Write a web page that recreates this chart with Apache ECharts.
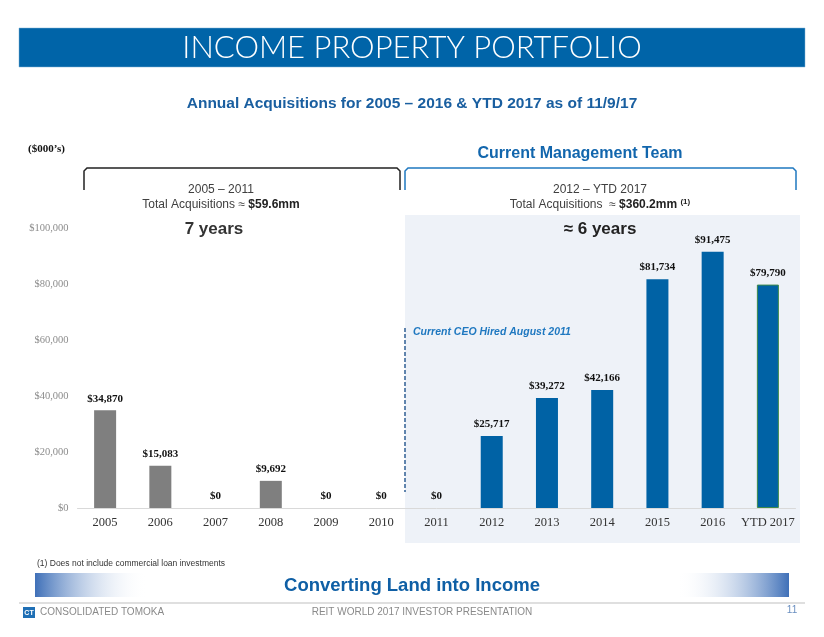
<!DOCTYPE html>
<html>
<head>
<meta charset="utf-8">
<script src="https://cdn.jsdelivr.net/npm/echarts@6/dist/echarts.min.js"></script>
<style>
html,body{margin:0;padding:0;background:#fff;}
#chart{width:824px;height:637px;}
</style>
</head>
<body>
<div id="chart"></div>
<script>
const categories = ['2005','2006','2007','2008','2009','2010','2011','2012','2013','2014','2015','2016','YTD 2017'];
const acquisitions = [34870, 15083, 0, 9692, 0, 0, 0, 25717, 39272, 42166, 81734, 91475, 79790];
const yTicks = [0, 20000, 40000, 60000, 80000, 100000];
const firstNewTeamIndex = 6;

const GRAY = '#7f7f7f';
const BLUE = '#0062a5';

const chart = echarts.init(document.getElementById('chart'), null, {renderer: 'canvas'});

const barData = acquisitions.map((v, i) => {
  const item = {value: v, itemStyle: {color: i < firstNewTeamIndex ? GRAY : BLUE}};
  if (i === acquisitions.length - 1) {
    item.itemStyle.borderColor = '#3f8a4a';
    item.itemStyle.borderWidth = 1;
  }
  return item;
});

const fmt = v => '$' + Number(v).toLocaleString('en-US');

const option = {
  backgroundColor: '#ffffff',
  animation: false,
  grid: {left: 77.5, right: 28.5, top: 228, bottom: 129, containLabel: false},
  xAxis: {
    type: 'category',
    data: categories,
    axisLine: {show: true, lineStyle: {color: '#d9d9d9', width: 1}},
    axisTick: {show: false},
    axisLabel: {interval: 0, color: '#333333', fontFamily: 'Liberation Serif, Times New Roman, serif', fontSize: 12.5, margin: 8}
  },
  yAxis: {
    type: 'value',
    min: yTicks[0],
    max: yTicks[yTicks.length - 1],
    interval: yTicks[1] - yTicks[0],
    splitLine: {show: false},
    axisLine: {show: false},
    axisTick: {show: false},
    axisLabel: {color: '#8c8c8c', fontFamily: 'Liberation Serif, Times New Roman, serif', fontSize: 10.5, margin: 9, formatter: fmt}
  },
  series: [{
    type: 'bar',
    data: barData,
    barWidth: 22,
    z: 5,
    label: {
      show: true,
      position: 'top',
      distance: 6,
      color: '#111111',
      fontFamily: 'Liberation Serif, Times New Roman, serif',
      fontWeight: 'bold',
      fontSize: 11,
      formatter: p => fmt(p.value)
    }
  }],
  graphic: [
    {type: 'rect', z: 0, shape: {x: 19, y: 28, width: 786, height: 39}, style: {fill: '#0064a8', stroke: '#7fb0d6', lineWidth: 0.5}},
    {type: 'text', z: 1, style: {x: 412, y: 48, text: 'INCOME PROPERTY PORTFOLIO', fill: '#ffffff', font: '300 31px Lato, "Open Sans", sans-serif', textAlign: 'center', textVerticalAlign: 'middle'}},
    {type: 'text', z: 1, style: {x: 412, y: 104, text: 'Annual Acquisitions for 2005 \u2013 2016 & YTD 2017 as of 11/9/17', fill: '#1a5fa0', font: 'bold 15.5px "Liberation Sans", Arial, sans-serif', textAlign: 'center', textVerticalAlign: 'middle'}},
    {type: 'text', z: 1, style: {x: 28, y: 149, text: '($000\u2019s)', fill: '#111111', font: 'bold 11px "Liberation Serif", serif', textAlign: 'left', textVerticalAlign: 'middle'}},
    {type: 'text', z: 1, style: {x: 580, y: 154, text: 'Current Management Team', fill: '#1266ad', font: 'bold 16px "Liberation Sans", Arial, sans-serif', textAlign: 'center', textVerticalAlign: 'middle'}},
    {type: 'rect', z: -1, shape: {x: 405, y: 215, width: 395, height: 328}, style: {fill: '#eef2f8'}},
    {type: 'polyline', z: 1, shape: {points: [[84, 190], [84, 171], [87, 168], [397, 168], [400, 171], [400, 190]]}, style: {stroke: '#222222', lineWidth: 1.5, fill: 'none'}},
    {type: 'polyline', z: 1, shape: {points: [[405, 190], [405, 171], [408, 168], [793, 168], [796, 171], [796, 190]]}, style: {stroke: '#1f78c0', lineWidth: 1.5, fill: 'none'}},
    {type: 'text', z: 1, style: {x: 221, y: 190, text: '2005 \u2013 2011', fill: '#404040', font: '12px "Liberation Sans", Arial, sans-serif', textAlign: 'center', textVerticalAlign: 'middle'}},
    {type: 'text', z: 1, style: {x: 221, y: 205, rich: {n: {fill: '#404040', font: '12px "Liberation Sans", Arial, sans-serif'}, b: {fill: '#222222', font: 'bold 12px "Liberation Sans", Arial, sans-serif'}}, text: '{n|Total Acquisitions \u2248 }{b|$59.6mm}', textAlign: 'center', textVerticalAlign: 'middle'}},
    {type: 'text', z: 1, style: {x: 214, y: 229, text: '7 years', fill: '#333333', font: 'bold 17px "Liberation Sans", Arial, sans-serif', textAlign: 'center', textVerticalAlign: 'middle'}},
    {type: 'text', z: 1, style: {x: 600, y: 190, text: '2012 \u2013 YTD 2017', fill: '#404040', font: '12px "Liberation Sans", Arial, sans-serif', textAlign: 'center', textVerticalAlign: 'middle'}},
    {type: 'text', z: 1, style: {x: 600, y: 205, rich: {n: {fill: '#404040', font: '12px "Liberation Sans", Arial, sans-serif'}, b: {fill: '#222222', font: 'bold 12px "Liberation Sans", Arial, sans-serif'}, s: {fill: '#222222', font: 'bold 8px "Liberation Sans", Arial, sans-serif', verticalAlign: 'top', padding: [0, 0, 6, 0]}}, text: '{n|Total Acquisitions  \u2248 }{b|$360.2mm }{s|(1)}', textAlign: 'center', textVerticalAlign: 'middle'}},
    {type: 'text', z: 1, style: {x: 600, y: 229, text: '\u2248 6 years', fill: '#222222', font: 'bold 17px "Liberation Sans", Arial, sans-serif', textAlign: 'center', textVerticalAlign: 'middle'}},
    {type: 'line', z: 3, shape: {x1: 405, y1: 328, x2: 405, y2: 492}, style: {stroke: '#2f5f94', lineWidth: 1.5, lineDash: [4, 2]}},
    {type: 'text', z: 3, style: {x: 413, y: 332, text: 'Current CEO Hired August 2011', fill: '#1f78c0', font: 'italic bold 10.5px "Liberation Sans", Arial, sans-serif', textAlign: 'left', textVerticalAlign: 'middle'}},
    {type: 'text', z: 1, style: {x: 37, y: 564, text: '(1) Does not include commercial loan investments', fill: '#333333', font: '8.5px "Liberation Sans", Arial, sans-serif', textAlign: 'left', textVerticalAlign: 'middle'}},
    {type: 'rect', z: 1, shape: {x: 35, y: 573, width: 112, height: 24}, style: {fill: new echarts.graphic.LinearGradient(0, 0, 1, 0, [{offset: 0, color: '#3f70b8'}, {offset: 1, color: 'rgba(255,255,255,0)'}])}},
    {type: 'rect', z: 1, shape: {x: 677, y: 573, width: 112, height: 24}, style: {fill: new echarts.graphic.LinearGradient(0, 0, 1, 0, [{offset: 0, color: 'rgba(255,255,255,0)'}, {offset: 1, color: '#3f70b8'}])}},
    {type: 'text', z: 2, style: {x: 412, y: 586, text: 'Converting Land into Income', fill: '#0f5fa5', font: 'bold 18.5px "Liberation Sans", Arial, sans-serif', textAlign: 'center', textVerticalAlign: 'middle'}},
    {type: 'line', z: 1, shape: {x1: 19, y1: 603, x2: 805, y2: 603}, style: {stroke: '#bfbfbf', lineWidth: 1}},
    {type: 'rect', z: 1, shape: {x: 23, y: 607, width: 12, height: 11}, style: {fill: '#1f6fb5'}},
    {type: 'text', z: 2, style: {x: 29, y: 613, text: 'CT', fill: '#ffffff', font: 'bold 7px "Liberation Sans", Arial, sans-serif', textAlign: 'center', textVerticalAlign: 'middle'}},
    {type: 'text', z: 1, style: {x: 40, y: 612, text: 'CONSOLIDATED TOMOKA', fill: '#8a8a8a', font: '10px "Liberation Sans", Arial, sans-serif', textAlign: 'left', textVerticalAlign: 'middle'}},
    {type: 'text', z: 1, style: {x: 422, y: 612, text: 'REIT WORLD 2017 INVESTOR PRESENTATION', fill: '#8a8a8a', font: '10px "Liberation Sans", Arial, sans-serif', textAlign: 'center', textVerticalAlign: 'middle'}},
    {type: 'text', z: 1, style: {x: 792, y: 610, text: '11', fill: '#6a8fc0', font: '10px "Liberation Sans", Arial, sans-serif', textAlign: 'center', textVerticalAlign: 'middle'}}
  ]
};
chart.setOption(option);
</script>
</body>
</html>
